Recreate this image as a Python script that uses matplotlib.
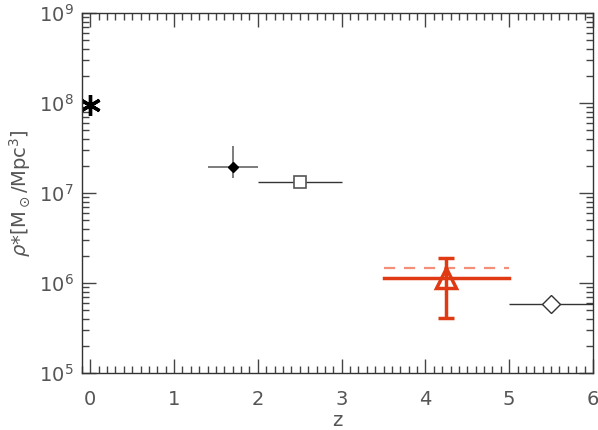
import matplotlib
matplotlib.use("Agg")
import matplotlib.pyplot as plt
from matplotlib.ticker import FixedLocator, LogLocator, NullFormatter, MultipleLocator

# data
z_star, rho_star = 0.0, 9.5e7

z_fd, rho_fd = 1.70, 1.95e7
z_fd_err = [[0.30], [0.30]]
rho_fd_err = [[1.95e7 - 1.45e7], [3.35e7 - 1.95e7]]

z_sq, rho_sq = 2.5, 1.32e7
z_sq_err = 0.5

z_tri, rho_tri = 4.25, 1.15e6
z_tri_lo, z_tri_hi = 3.5, 5.0
rho_tri_lo, rho_tri_hi = 4.05e5, 1.9e6
rho_tri_dash = 1.45e6

z_od, rho_od = 5.5, 5.85e5
z_od_err = 0.5

ytick_vals = [1e5, 1e6, 1e7, 1e8, 1e9]
ytick_labels = [r'$10^{5}$', r'$10^{6}$', r'$10^{7}$', r'$10^{8}$', r'$10^{9}$']

txt = '#555555'
red = '#e03a14'
plt.rcParams['font.family'] = ['DejaVu Sans']

fig = plt.figure(figsize=(5.98, 4.30), dpi=100)
ax = fig.add_axes([0.137, 0.1326, 0.8546, 0.8372])
ax.set_yscale('log')
ax.set_xlim(-0.1, 6.0)
ax.set_ylim(1e5, 1e9)

# asterisk
ax.plot([z_star], [rho_star], marker=(6, 2, 0), ms=15, mew=2.4, color='black', ls='none')

# filled diamond
ax.errorbar([z_fd], [rho_fd], xerr=z_fd_err, yerr=rho_fd_err, fmt='D', ms=5,
            color='black', ecolor='#666666', elinewidth=1.2, capsize=0)

# open square
ax.errorbar([z_sq], [rho_sq], xerr=z_sq_err, fmt='s', ms=8, mfc='white',
            mec='#555555', mew=1.2, color='#333333', ecolor='#333333', elinewidth=1.0, capsize=0)

# red triangle
ax.plot([z_tri_lo, z_tri_hi], [rho_tri_dash, rho_tri_dash], ls=(0, (5, 4)), color='#f4907a', lw=1.6)
ax.plot([z_tri_lo, z_tri_hi], [rho_tri, rho_tri], color=red, lw=2.5)
ax.errorbar([z_tri], [rho_tri], yerr=[[rho_tri - rho_tri_lo], [rho_tri_hi - rho_tri]], fmt='^',
            ms=14, mfc='none', mec=red, mew=2.5, ecolor=red, elinewidth=2.5, capsize=6, capthick=2.5)

# open diamond
ax.errorbar([z_od], [rho_od], xerr=z_od_err, fmt='D', ms=9, mfc='white',
            mec='#333333', mew=1.0, color='#333333', ecolor='#333333', elinewidth=1.0, capsize=0)

ax.yaxis.set_major_locator(FixedLocator(ytick_vals))
ax.set_yticklabels(ytick_labels)
ax.yaxis.set_minor_locator(LogLocator(base=10, subs=range(2, 10), numticks=20))
ax.yaxis.set_minor_formatter(NullFormatter())
ax.xaxis.set_major_locator(MultipleLocator(1))
ax.xaxis.set_minor_locator(MultipleLocator(0.1))

ax.tick_params(which='both', direction='in', top=True, right=True, colors='#444444',
               labelcolor=txt, labelsize=14, width=1.0)
ax.tick_params(which='major', length=10)
ax.tick_params(which='minor', length=5)
ax.tick_params(axis='x', pad=12)
ax.tick_params(axis='y', pad=6)
for s in ax.spines.values():
    s.set_color('#333333')
    s.set_linewidth(1.0)

ax.set_xlabel('z', color=txt, fontsize=14, labelpad=2)
ax.set_ylabel(r'$\rho$*[M$_\odot$/Mpc$^3$]', color=txt, fontsize=14, labelpad=4)

fig.savefig('out.png', dpi=100)
